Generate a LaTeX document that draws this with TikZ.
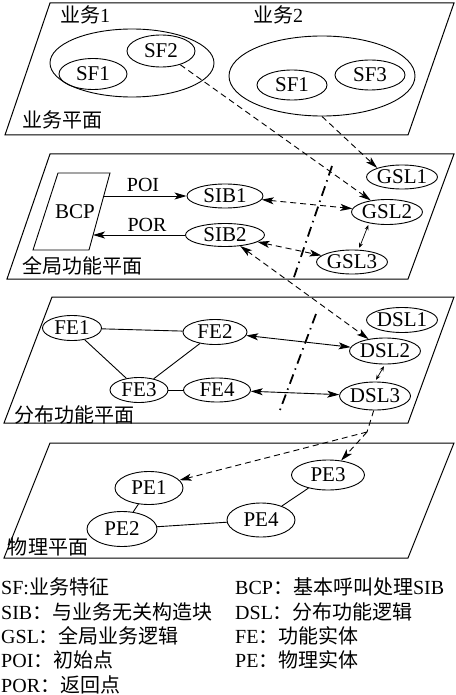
\documentclass[tikz,border=0pt]{standalone}
\usepackage{fontspec}
\setmainfont{Liberation Serif}
\newfontfamily\zh{Noto Sans CJK SC}
\usetikzlibrary{arrows.meta, shapes.geometric}
\tikzset{
  plane/.style={draw,line width=1pt},
  ent/.style={ellipse,draw,line width=0.9pt,inner sep=0pt,font=\fontsize{21}{21}\selectfont},
  ellsize/.style 2 args={minimum width=#1pt,minimum height=#2pt},
  lbl/.style={inner sep=0pt,font=\fontsize{20}{20}\selectfont},
  link/.style={line width=0.9pt},
  arr/.style={line width=0.9pt,-{Stealth[length=12pt,width=7pt,inset=3pt]}},
  both/.style={line width=0.9pt,{Stealth[length=12pt,width=7pt,inset=3pt]}-{Stealth[length=12pt,width=7pt,inset=3pt]}},
  dashline/.style={line width=0.9pt,dash pattern=on 6pt off 4pt},
  small/.style={line width=0.7pt,{Stealth[length=5pt,width=4pt]}-{Stealth[length=5pt,width=4pt]},shorten >=2pt,shorten <=2pt},
  cut/.style={line width=1.8pt,dash pattern=on 10pt off 5pt on 1.5pt off 5pt},
  key/.style={anchor=base west,inner sep=0pt,font=\fontsize{20}{24}\selectfont}
}

\begin{document}
\begin{tikzpicture}[x=1pt,y=-1pt]
\useasboundingbox (0,0) rectangle (455,695);
% the four planes
\draw[plane] (50,3) -- (454,3) -- (408,135) -- (5,135) -- cycle;
\draw[plane] (50,154) -- (454,154) -- (408,279) -- (7,279) -- cycle;
\draw[plane] (52,297) -- (454,297) -- (408,423) -- (4,423) -- cycle;
\draw[plane] (50,443) -- (454,443) -- (408,558) -- (4,558) -- cycle;

% service plane
\node[lbl] (biz1) at (85,15) {{\zh 业务}1};
\node[lbl] (biz2) at (278,15) {{\zh 业务}2};
\node[ent, ellsize={164}{68}] (svc1) at (132,63) {};
\node[ent, ellsize={68}{32}] (sf2) at (161,51) {SF2};
\node[ent, ellsize={68}{31}] (sf1a) at (93,74) {SF1};
\node[ent, ellsize={186}{80}] (svc2) at (322,76) {};
\node[ent, ellsize={70}{30}] (sf1b) at (292,85) {SF1};
\node[ent, ellsize={70}{30}] (sf3) at (370,75) {SF3};
\node[lbl] (splane) at (62,120) {\zh 业务平面};

% global function plane
\draw[line width=0.9pt] (58,173) -- (110,173) -- (89,250) -- (33,250) -- cycle;
\node[lbl, font=\fontsize{21}{21}\selectfont] (bcp) at (75,212) {BCP};
\coordinate (bcpout) at (104,196);
\coordinate (bcpin) at (93,235);
\node[ent, ellsize={76}{24}] (sib1) at (225,196) {SIB1};
\node[ent, ellsize={79}{23}] (sib2) at (225,235) {SIB2};
\node[ent, ellsize={68}{24}] (gsl1) at (402,177) {GSL1};
\node[ent, ellsize={67}{25}] (gsl2) at (387,212) {GSL2};
\node[ent, ellsize={67}{24}] (gsl3) at (352,262) {GSL3};
\node[lbl] (poi) at (143,185) {POI};
\node[lbl] (por) at (147,225) {POR};
\node[lbl] (gplane) at (82,266) {\zh 全局功能平面};
\draw[arr] (bcpout) -- (sib1.west);
\draw[arr] (sib2.west) -- (bcpin);
\draw[both, dashline] (sib1) -- (gsl2);
\draw[both, dashline] (sib2) -- (gsl3);
\draw[small] (gsl2.212) -- (gsl3.62);
\coordinate (c1a) at (332,166);
\coordinate (c1b) at (293,280);
\draw[cut] (c1a) -- (c1b);

% distributed function plane
\node[ent, ellsize={59}{25}] (fe1) at (72,328) {FE1};
\node[ent, ellsize={64}{25}] (fe2) at (215,332) {FE2};
\node[ent, ellsize={58}{25}] (fe3) at (139,390) {FE3};
\node[ent, ellsize={67}{24}] (fe4) at (217,390) {FE4};
\node[ent, ellsize={69}{25}] (dsl1) at (402,320) {DSL1};
\node[ent, ellsize={58}{26}] (dsl2) at (385,351) {DSL2};
\node[ent, ellsize={66}{28}] (dsl3) at (375,396) {DSL3};
\node[lbl] (dplane) at (74,415) {\zh 分布功能平面};
\draw[link] (fe1) -- (fe2);
\draw[link] (fe1) -- (fe3);
\draw[link] (fe2) -- (fe3);
\draw[link] (fe3) -- (fe4);
\draw[both] (fe2) -- (dsl2);
\draw[both] (fe4) -- (dsl3);
\draw[small] (dsl2.south) -- (dsl3.north);
\coordinate (c2a) at (316,314);
\coordinate (c2b) at (280,410);
\draw[cut] (c2a) -- (c2b);

% physical plane
\node[ent, ellsize={68}{33}] (pe1) at (149,488) {PE1};
\node[ent, ellsize={70}{35}] (pe2) at (122,529) {PE2};
\node[ent, ellsize={73}{30}] (pe3) at (328,475) {PE3};
\node[ent, ellsize={68}{34}] (pe4) at (261,520) {PE4};
\node[lbl] (pplane) at (48,547) {\zh 物理平面};
\draw[link] (pe1) -- (pe2);
\draw[link] (pe2) -- (pe4);
\draw[link] (pe4) -- (pe3);

% mappings between planes
\draw[arr, dashline] (sf2) -- (gsl2);
\draw[arr, dashline] (svc2.south) -- (gsl1.160);
\draw[both, dashline] (sib2) -- (dsl2);
\coordinate (split) at (367,432);
\draw[dashline] (dsl3.265) -- (split);
\draw[arr, dashline] (split) -- (pe1);
\draw[arr, dashline] (split) -- (pe3);

% legend
\node[key] (k1) at (1,594) {SF:{\zh 业务特征}};
\node[key] (k2) at (1,619) {SIB{\zh ：与业务无关构造块}};
\node[key] (k3) at (1,643) {GSL{\zh ：全局业务逻辑}};
\node[key] (k4) at (1,667) {POI{\zh ：初始点}};
\node[key] (k5) at (1,692) {POR{\zh ：返回点}};
\node[key] (k6) at (235,594) {BCP{\zh ：基本呼叫处理}SIB};
\node[key] (k7) at (235,619) {DSL{\zh ：分布功能逻辑}};
\node[key] (k8) at (235,643) {FE{\zh ：功能实体}};
\node[key] (k9) at (235,667) {PE{\zh ：物理实体}};
\end{tikzpicture}
\end{document}
